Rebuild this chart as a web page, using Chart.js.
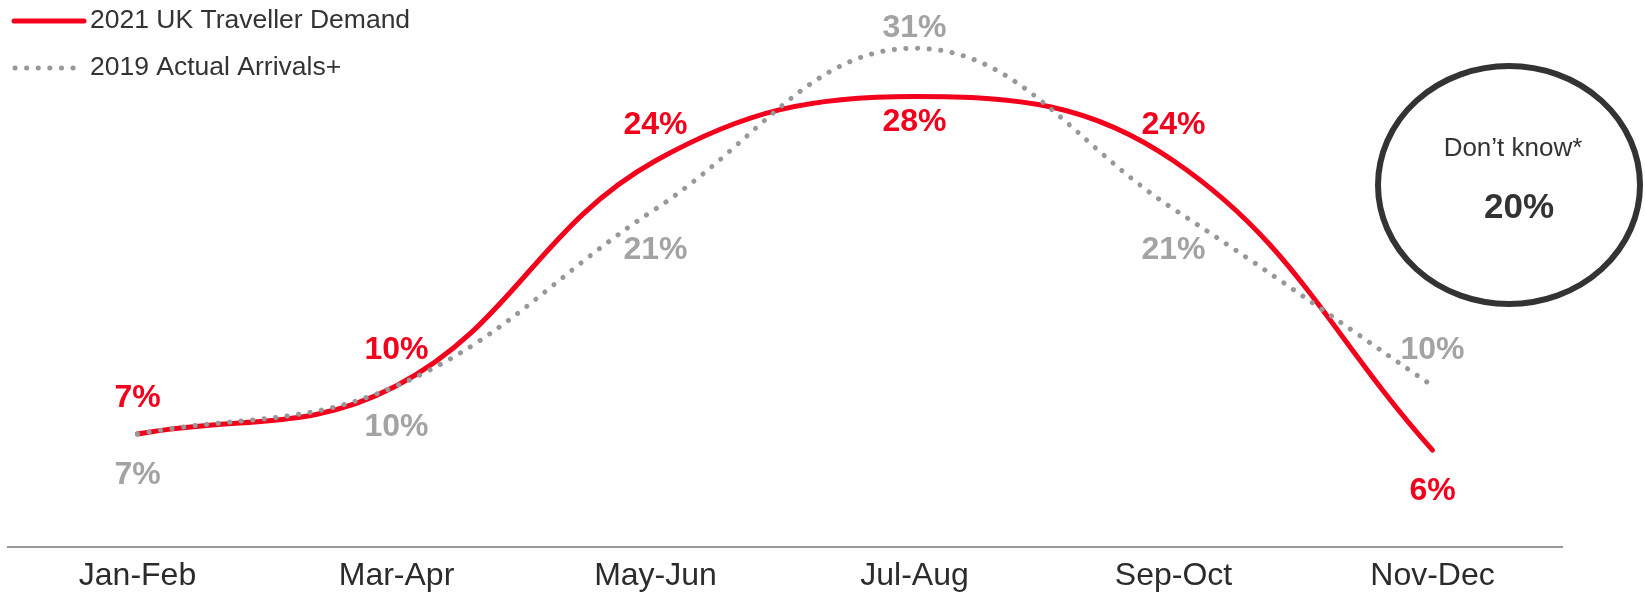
<!DOCTYPE html>
<html>
<head>
<meta charset="utf-8">
<script src="https://cdn.jsdelivr.net/npm/chart.js@4/dist/chart.umd.min.js"></script>
<style>
  html, body { margin: 0; padding: 0; background: #fff; overflow: hidden; }
  #wrap { width: 1645px; height: 605px; position: relative; }
</style>
</head>
<body>
<div id="wrap"><canvas id="chart"></canvas></div>
<script>
var periods = ['Jan-Feb', 'Mar-Apr', 'May-Jun', 'Jul-Aug', 'Sep-Oct', 'Nov-Dec'];
var demand2021 = [7, 10, 24, 28, 24, 6];
var arrivals2019 = [7, 10, 21, 31, 21, 10];
var seriesNames = ['2021 UK Traveller Demand', '2019 Actual Arrivals+'];
var dontKnowLabel = 'Don\u2019t know*';
var dontKnowValue = 20;

var RED = '#f2001c';
var GREY = '#989898';
var GREY_TEXT = '#a3a3a3';
var DARK = '#333333';
var FONT = '"Liberation Sans", Arial, sans-serif';

// which side each value label sits on (true = above the point)
var redAbove = [true, true, true, false, true, false];
var greyAbove = [false, false, false, true, false, true];

var valueLabels = {
    id: 'valueLabels',
    afterDatasetsDraw: function (chart) {
        var ctx = chart.ctx;
        ctx.save();
        ctx.font = 'bold 32px ' + FONT;
        ctx.textAlign = 'center';
        [[0, redAbove, RED], [1, greyAbove, GREY_TEXT]].forEach(function (s) {
            var meta = chart.getDatasetMeta(s[0]);
            var vals = chart.data.datasets[s[0]].data;
            meta.data.forEach(function (pt, i) {
                var near = (i === 3);
                ctx.fillStyle = s[2];
                if (s[1][i]) {
                    ctx.textBaseline = 'alphabetic';
                    ctx.fillText(vals[i] + '%', pt.x, pt.y - (near ? 11 : 27));
                } else {
                    ctx.textBaseline = 'top';
                    ctx.fillText(vals[i] + '%', pt.x, pt.y + (near ? 10 : 25));
                }
            });
        });
        ctx.restore();
    }
};

var extras = {
    id: 'extras',
    afterDraw: function (chart) {
        var ctx = chart.ctx;
        ctx.save();
        // legend
        ctx.lineCap = 'round';
        ctx.strokeStyle = RED;
        ctx.lineWidth = 5;
        ctx.beginPath();
        ctx.moveTo(14, 21);
        ctx.lineTo(84, 21);
        ctx.stroke();
        ctx.strokeStyle = GREY;
        ctx.lineWidth = 5;
        ctx.setLineDash([0.1, 11.5]);
        ctx.beginPath();
        ctx.moveTo(15, 68);
        ctx.lineTo(78, 68);
        ctx.stroke();
        ctx.setLineDash([]);
        ctx.fillStyle = DARK;
        ctx.font = '26.5px ' + FONT;
        ctx.textAlign = 'left';
        ctx.textBaseline = 'middle';
        ctx.fillText(seriesNames[0], 90, 21);
        ctx.fillText(seriesNames[1], 90, 68);

        // "don't know" ellipse
        ctx.strokeStyle = DARK;
        ctx.lineWidth = 6;
        ctx.beginPath();
        ctx.ellipse(1509, 185, 131, 119, 0, 0, Math.PI * 2);
        ctx.stroke();
        ctx.textAlign = 'center';
        ctx.font = '26px ' + FONT;
        ctx.fillText(dontKnowLabel, 1513, 149);
        ctx.font = 'bold 35px ' + FONT;
        ctx.fillText(dontKnowValue + '%', 1519, 208);
        ctx.restore();
    }
};

var ctx = document.getElementById('chart').getContext('2d');
var chart = new Chart(ctx, {
    type: 'line',
    data: {
        labels: periods,
        datasets: [{
            label: seriesNames[0],
            data: demand2021,
            borderColor: RED,
            borderWidth: 5,
            borderCapStyle: 'round',
            tension: 0.4,
            pointRadius: 0,
            fill: false,
            order: 1
        }, {
            label: seriesNames[1],
            data: arrivals2019,
            borderColor: GREY,
            borderWidth: 5,
            borderCapStyle: 'round',
            borderDash: [0.1, 11.5],
            tension: 0.4,
            pointRadius: 0,
            fill: false,
            order: 0
        }]
    },
    options: {
        responsive: true,
        maintainAspectRatio: false,
        animation: false,
        layout: { padding: { left: 8, right: 83, top: 0, bottom: 0 } },
        plugins: {
            legend: { display: false },
            tooltip: { enabled: false }
        },
        scales: {
            x: {
                offset: true,
                grid: { display: false, drawTicks: false },
                border: { display: true, color: '#999999', width: 2 },
                ticks: {
                    color: '#2b2b2b',
                    padding: 10,
                    font: { family: FONT, size: 32 }
                }
            },
            y: {
                display: false,
                min: 0,
                max: 34
            }
        }
    },
    plugins: [valueLabels, extras]
});
</script>
</body>
</html>
